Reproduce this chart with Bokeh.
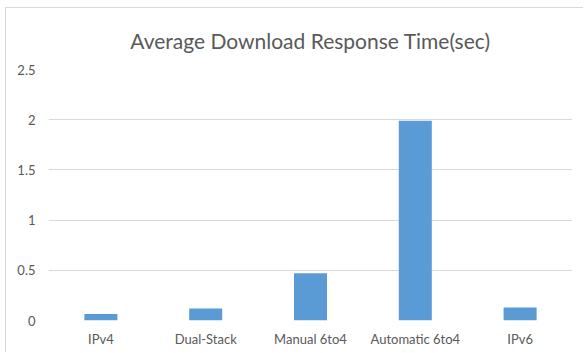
from bokeh.plotting import figure
from bokeh.models import ColumnDataSource, FixedTicker, NumeralTickFormatter
from bokeh.embed import file_html
from bokeh.resources import INLINE

# Average download response time per transition mechanism (seconds)
categories = ["IPv4", "Dual-Stack", "Manual 6to4", "Automatic 6to4", "IPv6"]
response_sec = [0.065, 0.12, 0.47, 1.99, 0.13]
y_ticks = [0, 0.5, 1, 1.5, 2, 2.5]

title_text = "Average Download Response Time(sec)"
font = "Lato"
grey = "#595959"
grid = "#d9d9d9"

source = ColumnDataSource(data=dict(cat=categories, val=response_sec))

p = figure(
    x_range=categories,
    y_range=(0, 2.5),
    width=578,
    height=345,
    output_backend="svg",
    toolbar_location=None,
    title=title_text,
    min_border_left=42,
    min_border_right=12,
    min_border_top=61,
    min_border_bottom=33,
)
p.styles = {
    "margin-left": "5px",
    "margin-top": "7px",
    "border-left": f"1px solid {grid}",
    "border-top": f"1px solid {grid}",
}

p.title.align = "center"
p.title.text_font = font
p.title.text_font_size = "21px"
p.title.text_font_style = "normal"
p.title.text_color = grey
p.title.standoff = 33

p.vbar(x="cat", top="val", width=0.315, source=source,
       fill_color="#5b9bd5", line_color=None)

p.outline_line_color = None
p.background_fill_color = "white"
p.border_fill_color = "white"

p.xgrid.grid_line_color = None
p.ygrid.grid_line_color = grid
p.ygrid.grid_line_width = 1

p.yaxis.ticker = FixedTicker(ticks=y_ticks)
p.yaxis.formatter = NumeralTickFormatter(format="0.[0]")

for ax in (p.xaxis[0], p.yaxis[0]):
    ax.axis_line_color = None
    ax.major_tick_line_color = None
    ax.minor_tick_line_color = None
    ax.major_tick_out = 0
    ax.major_tick_in = 0
    ax.major_label_text_font = font
    ax.major_label_text_font_size = "13px"
    ax.major_label_text_color = grey

p.yaxis.major_label_standoff = 13
p.xaxis.major_label_standoff = 10

open("out.html", "w").write(file_html(p, INLINE))
